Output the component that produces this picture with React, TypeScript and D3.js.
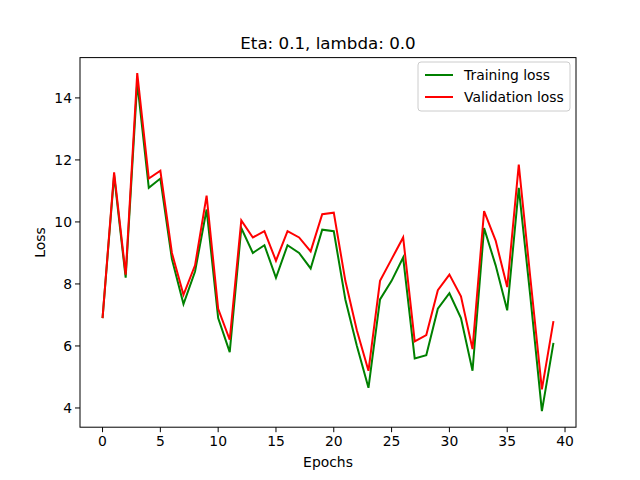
import * as d3 from "d3";

const epochs = d3.range(40);
const trainLoss = [6.9, 11.5, 8.2, 14.5, 11.1, 11.4, 8.8, 7.35, 8.4, 10.4, 6.9, 5.8, 9.8, 9.0, 9.25, 8.2, 9.25, 9.0, 8.5, 9.75, 9.7, 7.5, 6.0, 4.65, 7.5, 8.1, 8.85, 5.6, 5.7, 7.2, 7.7, 6.9, 5.2, 9.8, 8.6, 7.15, 11.1, 7.6, 3.9, 6.1];
const valLoss = [6.9, 11.6, 8.3, 14.8, 11.4, 11.65, 9.0, 7.65, 8.6, 10.85, 7.2, 6.2, 10.05, 9.5, 9.7, 8.75, 9.7, 9.5, 9.05, 10.25, 10.3, 8.1, 6.5, 5.2, 8.1, 8.8, 9.5, 6.15, 6.35, 7.8, 8.3, 7.6, 5.9, 10.35, 9.4, 7.9, 11.85, 8.2, 4.6, 6.8];
const xTicks = [0, 5, 10, 15, 20, 25, 30, 35, 40];
const yTicks = [4, 6, 8, 10, 12, 14];

const W = 640, H = 480;
const m = { left: 80, right: 576, top: 57.6, bottom: 427.2 };
const font = "DejaVu Sans";

export default function App() {
  const x = d3.scaleLinear().domain([-1.95, 40.95]).range([m.left, m.right]);
  const y = d3.scaleLinear().domain([3.38, 15.3]).range([m.bottom, m.top]);
  const line = (vals: number[]) =>
    d3.line<number>().x((_, i) => x(epochs[i])).y((d) => y(d))(vals) ?? "";

  return (
    <svg width={W} height={H} style={{ position: "absolute", left: 0, top: 0 }} fontFamily={font}>
      <rect width={W} height={H} fill="white" />
      <path d={line(trainLoss)} fill="none" stroke="green" strokeWidth={2} />
      <path d={line(valLoss)} fill="none" stroke="red" strokeWidth={2} />
      <rect x={m.left} y={m.top} width={m.right - m.left} height={m.bottom - m.top} fill="none" stroke="black" strokeWidth={1} />
      {xTicks.map((t) => (
        <g key={t} transform={`translate(${x(t)},${m.bottom})`}>
          <line y2={5} stroke="black" />
          <text y={19} textAnchor="middle" fontSize={13.9}>{t}</text>
        </g>
      ))}
      {yTicks.map((t) => (
        <g key={t} transform={`translate(${m.left},${y(t)})`}>
          <line x2={-5} stroke="black" />
          <text x={-8} dy="0.35em" textAnchor="end" fontSize={13.9}>{t}</text>
        </g>
      ))}
      <text x={(m.left + m.right) / 2} y={467} textAnchor="middle" fontSize={13.9}>Epochs</text>
      <text transform={`translate(45,${(m.top + m.bottom) / 2}) rotate(-90)`} textAnchor="middle" fontSize={13.9}>Loss</text>
      <text x={(m.left + m.right) / 2} y={49} textAnchor="middle" fontSize={16.7}>Eta: 0.1, lambda: 0.0</text>
      <g>
        <rect x={418} y={62} width={152} height={49} rx={3} fill="white" stroke="#ccc" />
        <line x1={425} x2={453} y1={75} y2={75} stroke="green" strokeWidth={2} />
        <text x={464} y={75} dy="0.35em" fontSize={13.9}>Training loss</text>
        <line x1={425} x2={453} y1={97} y2={97} stroke="red" strokeWidth={2} />
        <text x={464} y={97} dy="0.35em" fontSize={13.9}>Validation loss</text>
      </g>
    </svg>
  );
}
